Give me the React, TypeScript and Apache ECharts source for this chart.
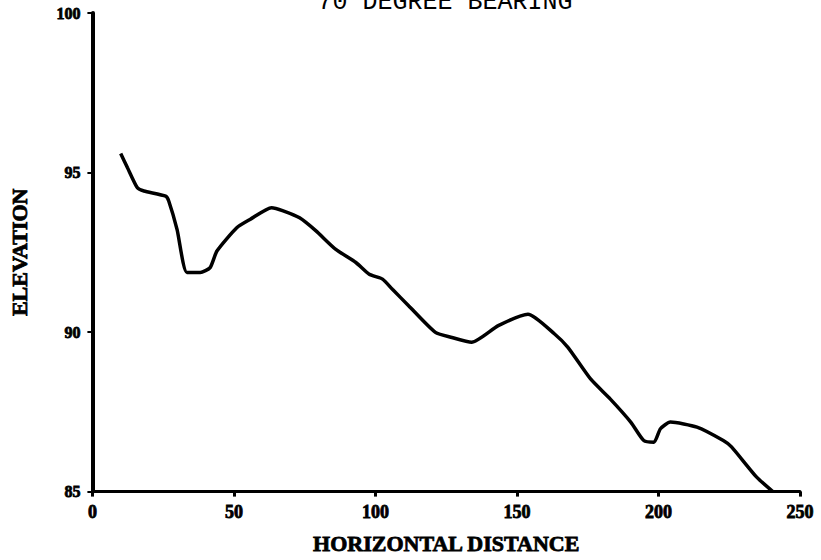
import React, { useEffect, useRef } from "react";
import * as echarts from "echarts";

const titleText = "70 DEGREE BEARING";
const xName = "HORIZONTAL DISTANCE";
const yName = "ELEVATION";

const distance = [10, 12.4, 15.9, 18.2, 25.9, 27, 29.9, 33.4, 38.1, 41.6, 44, 51, 55.7, 63.3, 67.4, 73.2, 79, 86, 93.1, 97.8, 102.5, 106, 111.8, 121.2, 127, 134, 143.4, 153.9, 163.3, 168, 176, 183, 190.2, 194.8, 198.4, 200.7, 204.2, 213.6, 222.9, 225.8, 234.6, 240.4];
const elevation = [95.6, 95.15, 94.52, 94.42, 94.26, 94.1, 93.22, 91.87, 91.87, 92.02, 92.54, 93.27, 93.53, 93.9, 93.8, 93.58, 93.17, 92.59, 92.18, 91.81, 91.66, 91.34, 90.82, 89.99, 89.83, 89.68, 90.2, 90.56, 89.94, 89.52, 88.53, 87.9, 87.18, 86.6, 86.55, 86.97, 87.18, 87.02, 86.6, 86.4, 85.46, 85];

export default function App() {
  const ref = useRef<HTMLDivElement>(null);
  useEffect(() => {
    if (!ref.current) return;
    const chart = echarts.init(ref.current, null, { renderer: "svg" });
    const labelFont = {
      fontFamily: "'Liberation Serif', 'DejaVu Serif', serif",
      fontWeight: "bold" as const,
      color: "#000",
      textBorderColor: "#000",
      textBorderWidth: 0.8,
    };
    chart.setOption({
      animation: false,
      backgroundColor: "#fff",
      title: {
        text: titleText,
        left: 440,
        textAlign: "center",
        top: -15,
        textStyle: {
          fontFamily: "'Liberation Mono', 'Courier New', monospace",
          fontWeight: "normal",
          fontSize: 25,
          color: "#000",
        },
      },
      grid: { left: 88, right: 21, top: 13, bottom: 67 },
      xAxis: {
        type: "value",
        min: 0,
        max: 250,
        interval: 50,
        name: xName,
        nameLocation: "middle",
        nameGap: 41,
        nameTextStyle: { ...labelFont, fontSize: 22 },
        axisLine: { lineStyle: { color: "#000", width: 3 } },
        axisTick: { show: true, length: 5, lineStyle: { color: "#000", width: 3 } },
        axisLabel: { ...labelFont, fontSize: 18, margin: 11 },
        splitLine: { show: false },
      },
      yAxis: {
        type: "value",
        min: 85,
        max: 100,
        interval: 5,
        name: yName,
        nameLocation: "middle",
        nameGap: 62,
        nameRotate: 90,
        nameTextStyle: { ...labelFont, fontSize: 22 },
        axisLine: { show: true, lineStyle: { color: "#000", width: 4 } },
        axisTick: { show: true, length: 5, lineStyle: { color: "#000", width: 2 } },
        axisLabel: { ...labelFont, fontSize: 16, margin: 12 },
        splitLine: { show: false },
      },
      series: [
        {
          type: "line",
          data: distance.map((d, i) => [d, elevation[i]]),
          showSymbol: false,
          smooth: 0.2,
          lineStyle: { color: "#000", width: 3.5 },
        },
      ],
    });
    return () => chart.dispose();
  }, []);
  return (
    <div
      ref={ref}
      style={{ position: "fixed", left: 0, top: 0, width: 821, height: 560, background: "#fff" }}
    />
  );
}
